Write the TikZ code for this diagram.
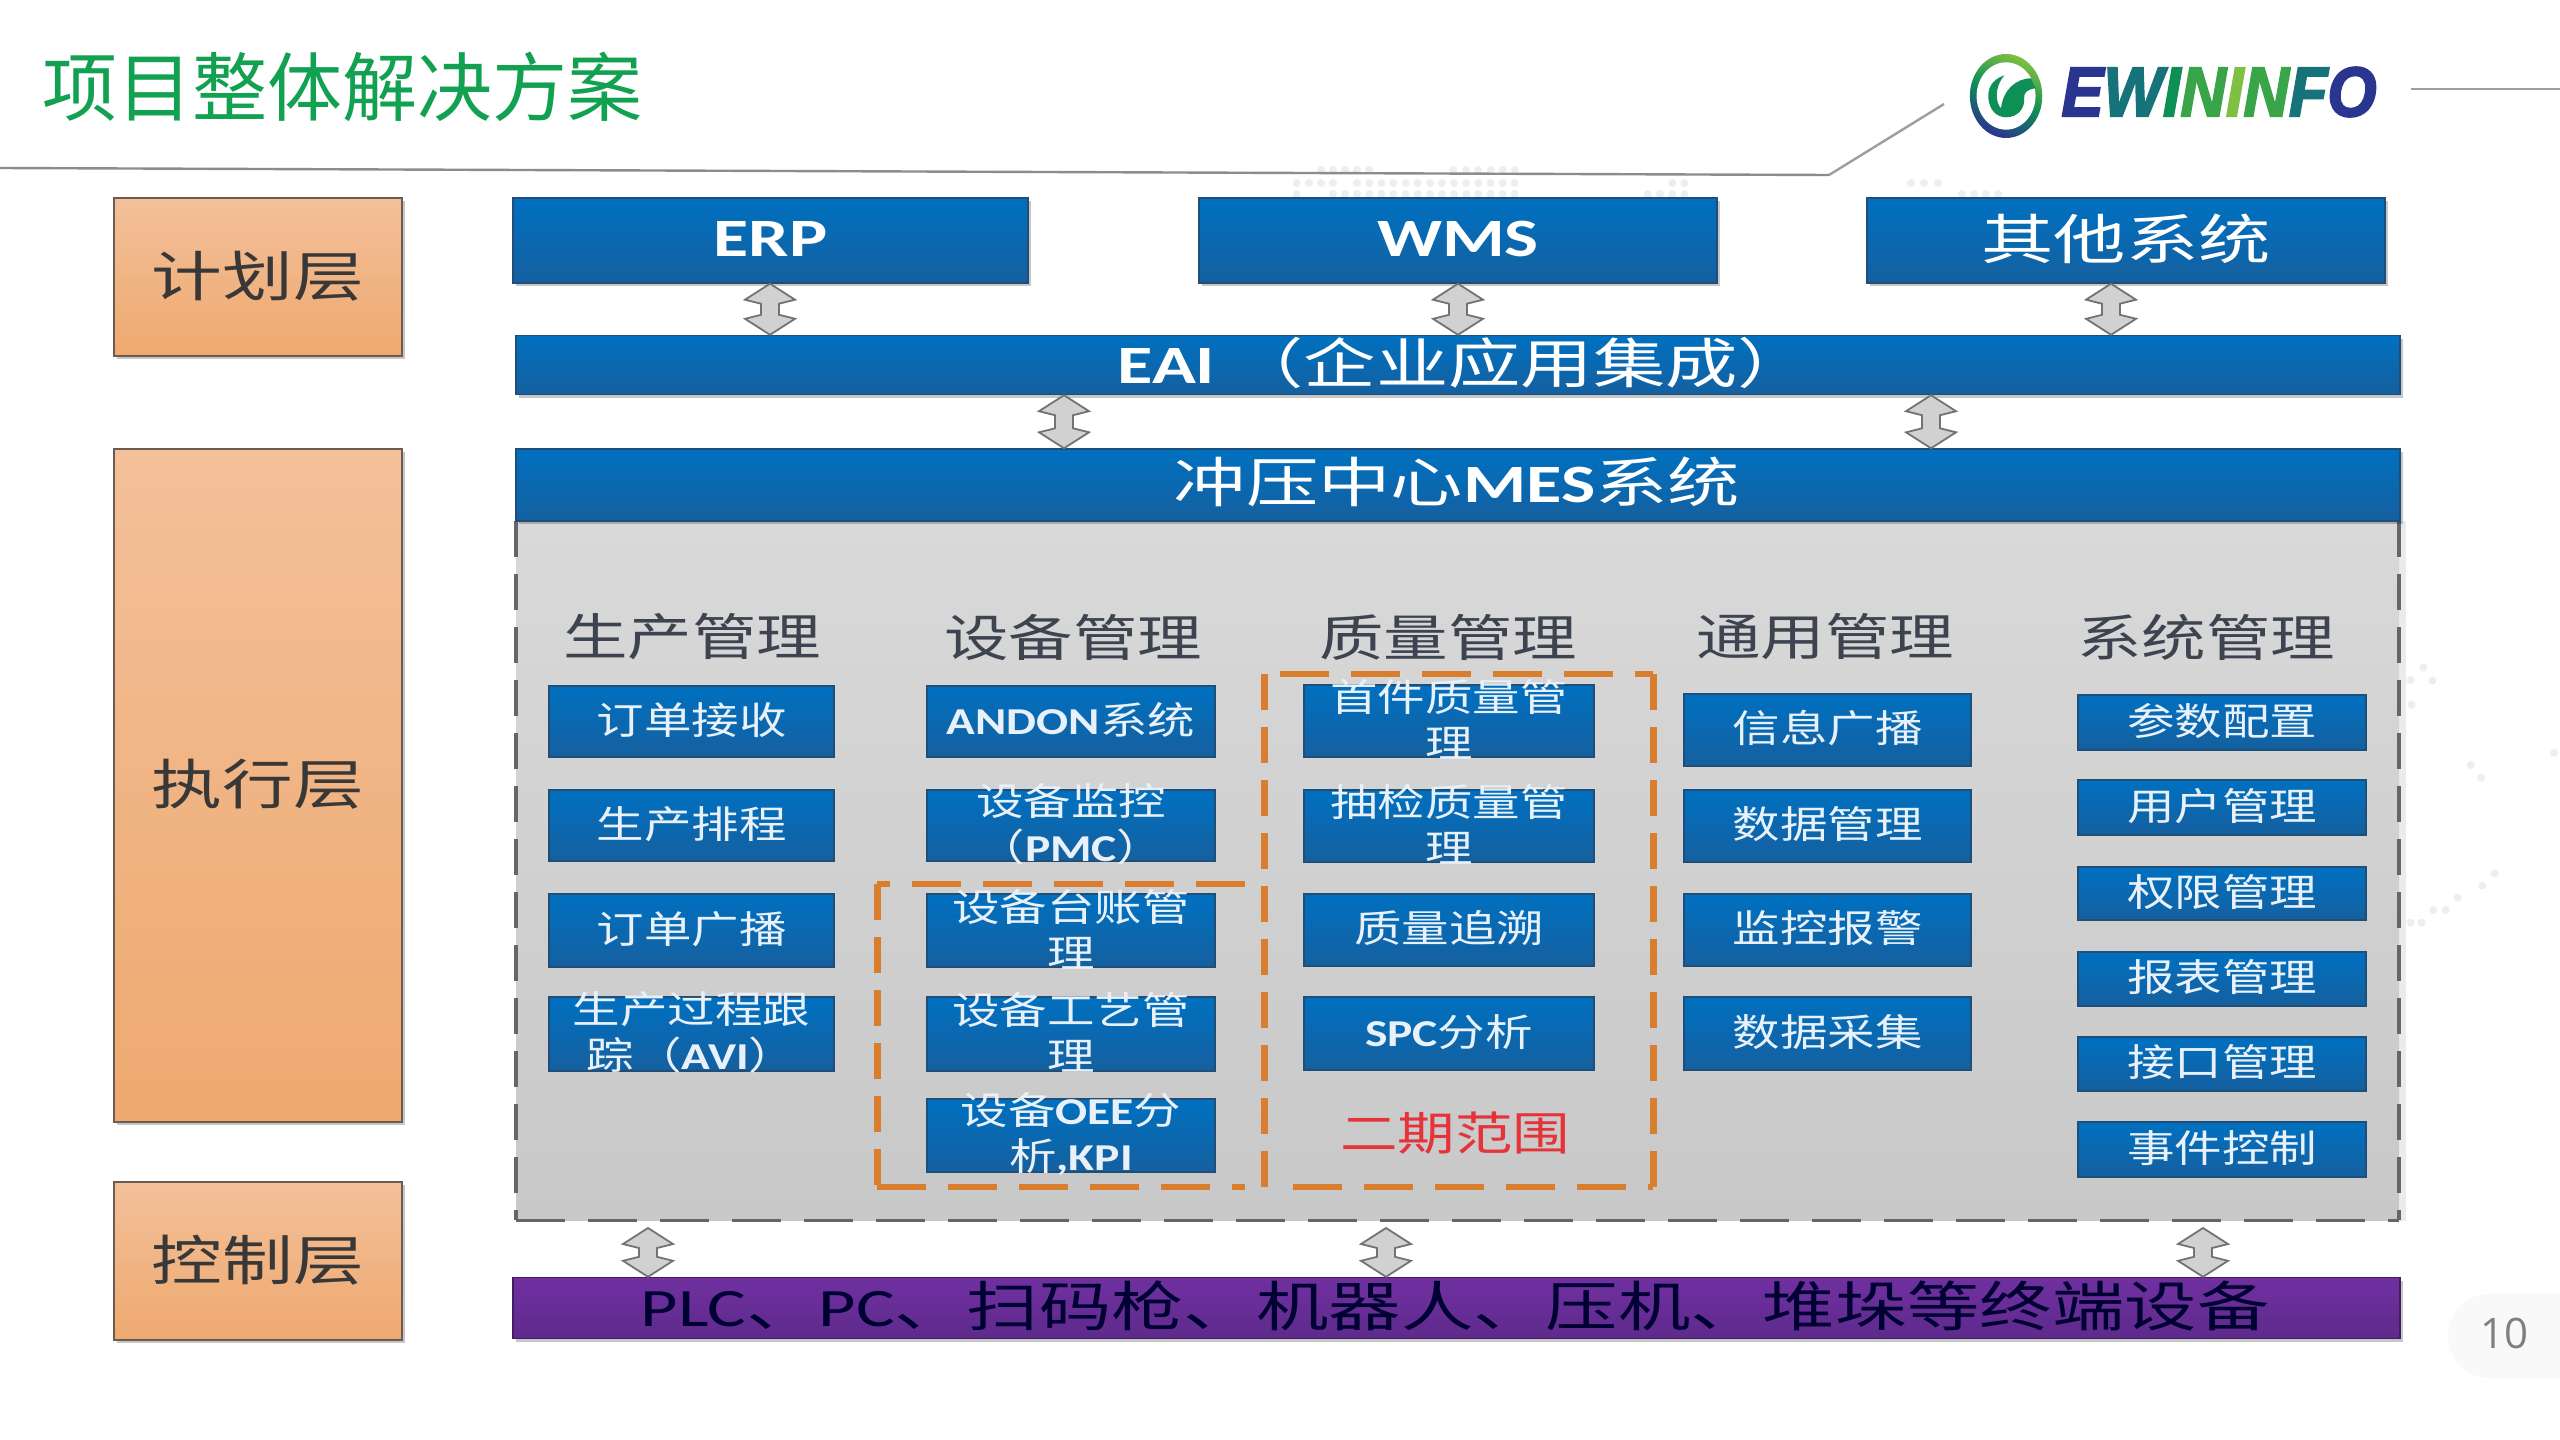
\documentclass[tikz,border=0pt]{standalone}
\usepackage{fontspec}
\usepackage{graphicx}
\usetikzlibrary{calc,shadows}
\setmainfont{Noto Sans CJK SC}
\newfontfamily\lat{Carlito}
\newfontfamily\pagefont{Open Sans}
\newfontfamily\logofont{Liberation Sans}[BoldItalicFeatures={FakeBold=3}]
\definecolor{blueT}{HTML}{0070C0}
\definecolor{blueB}{HTML}{15609F}
\definecolor{blueEdge}{HTML}{1F4E79}
\definecolor{orT}{HTML}{F3C09A}
\definecolor{orB}{HTML}{EEA96F}
\definecolor{orEdge}{HTML}{6B5B50}
\definecolor{panelT}{HTML}{D9D9DA}
\definecolor{panelB}{HTML}{C8C8C8}
\definecolor{purT}{HTML}{7030A0}
\definecolor{purB}{HTML}{5E2A8C}
\definecolor{dashO}{HTML}{D87E2E}
\definecolor{titleG}{HTML}{12A150}
\definecolor{headTxt}{HTML}{3D4450}
\definecolor{boxTxt}{HTML}{E8F1FA}
\definecolor{dotC}{HTML}{EEEEEE}
\definecolor{lineC}{HTML}{8C8C8C}
\definecolor{lgB}{HTML}{2A3590}
\definecolor{lgT}{HTML}{17737A}
\definecolor{lgG}{HTML}{0E8F55}
\definecolor{lgM}{HTML}{39A548}
\definecolor{lgL}{HTML}{7FBF41}
\definecolor{phaseR}{HTML}{E5333A}
\newcommand{\st}[1]{\scalebox{1.25}[1]{#1}}
\newcommand{\bt}[1]{\scalebox{1.34}[1]{#1}}
\newcommand{\lb}[1]{{\lat\bfseries #1}}
\newcommand{\boxat}[7]{%
  \node[#6,minimum width={(#4-#2)*0.5pt},minimum height={(#5-#3)*0.5pt}] (#1) at ({(#2+#4)/2},{(#3+#5)/2}) {};
  \node[boxlabel] (#1t) at (#1.center) {#7};}
\newcommand{\blockarrow}[3]{%
  \coordinate (t) at (#2,0 |- #1);
  \coordinate (b) at (#2,0 |- #3);
  \draw[blockshape] (t) -- ($(t)+(25,16)$) -- ($(t)+(9,20)$) -- ($(b)+(9,-20)$) -- ($(b)+(25,-16)$) -- (b) -- ($(b)+(-25,-16)$) -- ($(b)+(-9,-20)$) -- ($(t)+(-9,20)$) -- ($(t)+(-25,16)$) -- cycle;}
\tikzset{
  softshadow/.style={drop shadow={shadow xshift=1.5pt,shadow yshift=-1.5pt,opacity=.22,fill=black}},
  bluebar/.style={rectangle,draw=blueEdge,line width=.7pt,top color=blueT,bottom color=blueB,inner sep=0pt,softshadow},
  smallbox/.style={rectangle,draw=blueEdge,line width=.7pt,top color=blueT,bottom color=blueB,inner sep=0pt},
  layerbox/.style={rectangle,draw=orEdge,line width=1.1pt,top color=orT,bottom color=orB,inner sep=0pt,softshadow},
  purplebar/.style={rectangle,draw=purB!70!black,line width=.7pt,top color=purT,bottom color=purB,inner sep=0pt,softshadow},
  boxlabel/.style={inner sep=0pt,align=center,text=boxTxt,yshift=.8pt,font=\fontsize{19}{23}\selectfont},
  barlabel/.style={inner sep=0pt,align=center,text=white,yshift=1pt,font=\fontsize{27}{32}\selectfont},
  layerlabel/.style={inner sep=0pt,text=black!78,yshift=.5pt,font=\fontsize{27}{32}\selectfont},
  collabel/.style={inner sep=0pt,text=headTxt,font=\fontsize{25}{30}\selectfont},
  blockshape/.style={draw=black!55,fill=black!18,line width=.9pt,line join=miter},
  hdashgray/.style={draw=black!60,line width=1.5pt,dash pattern=on 24.5pt off 11.5pt},
  vdashgray/.style={draw=black!60,line width=2pt,dash pattern=on 18pt off 8.5pt},
  hdashor/.style={draw=dashO,line width=2.8pt,dash pattern=on 24.5pt off 11pt},
  vdashor/.style={draw=dashO,line width=3.5pt,dash pattern=on 18pt off 8.5pt},
  topline/.style={draw=lineC,line width=1.2pt},
  fdot/.style={fill=dotC,draw=none}
}
\begin{document}
\begin{tikzpicture}[x=0.5pt,y=-0.5pt]
\useasboundingbox (0,0) rectangle (2560,1440);
\fill[white] (0,0) rectangle (2560,1440);
% faint background dots
\foreach \z in {243,279,315,351,387,640,678,714,752,788,824}
  \fill[fdot] ({1240+\z/3},170) circle (4);
\foreach \z in {170,207,243,279,351,388,424,460,497,533,570,606,642,679,715,752,788,824,1297,1333}
  \fill[fdot] ({1240+\z/3},183) circle (4);
\foreach \z in {170,279,315,351,388,424,460,497,533,570,606,642,679,715,752,788,824,1223,1260,1297,1333}
  \fill[fdot] ({1240+\z/3},194) circle (4);
\foreach \xx in {1911,1924,1938}
  \fill[fdot] (\xx,183) circle (4);
\foreach \xx in {1962,1974,1986,1998}
  \fill[fdot] (\xx,194) circle (4);
\foreach \a/\b in {370/143,332/180,397/182,335/254,513/435,543/473,762/398,584/760,547/797,473/833,400/870,437/870,332/908,364/908}
  \fill[fdot] ({2300+\a/3},{620+\b/3}) circle (4);
% header lines
\coordinate (la) at (0,168);
\coordinate (lb) at (1829,175);
\coordinate (lc) at (1944,104);
\coordinate (ld) at (2411,89);
\coordinate (le) at (2560,89);
\draw[topline] (la) -- (lb);
\draw[topline,draw=black!38] (lb) -- (lc);
\draw[topline,draw=black!38] (ld) -- (le);
% title
\node[anchor=west,inner sep=0pt,text=titleG,font=\fontsize{37.5}{44}\selectfont] (title) at (42,87) {项目整体解决方案};
% logo mark
\begin{scope}[shift={(1900,0)},xscale=0.4209,yscale=0.3333]
  \shade[top color=lgL,bottom color=lgB,middle color=lgG,shading angle=-25] (252,288) ellipse [x radius=86,y radius=126];
  \fill[white] (252,288) ellipse [x radius=70,y radius=101];
  \fill[lgG] (248,226) .. controls (215,240) and (208,270) .. (210,295)
     .. controls (212,330) and (230,352) .. (252,352)
     .. controls (280,352) and (297,325) .. (295,295)
     .. controls (294,280) and (300,268) .. (322,265)
     -- (312,235)
     .. controls (275,235) and (245,270) .. (240,325)
     .. controls (228,310) and (222,265) .. (248,226) -- cycle;
\end{scope}
\node[anchor=center,inner sep=0pt,xscale=.9,transform shape,font=\logofont\bfseries\itshape\fontsize{35}{40}\selectfont] (logo) at (2219,92)
  {\textcolor{lgB}{E}\textcolor{lgT}{W}\textcolor{lgG}{I}\textcolor{lgM}{N}\textcolor{lgL}{I}\textcolor{lgM}{N}\textcolor{lgT}{F}\textcolor{lgB}{O}};
% page number pill
\fill[black!2.5] (2560,1294) -- (2490,1294) arc (-90:-270:42) -- (2560,1378) -- cycle;
\node[inner sep=0pt,text=black!50,font=\pagefont\fontsize{21}{25}\selectfont] (pageno) at (2504,1333) {10};
% layer boxes
\node[layerbox,minimum width=144pt,minimum height=79pt] (plan) at (258,277) {};
\node[layerlabel] (plant) at (plan.center) {\scalebox{1.31}[1]{计划层}};
\node[layerbox,minimum width=144pt,minimum height=336.5pt] (exec) at (258,785.5) {};
\node[layerlabel] (exect) at (258,785) {\scalebox{1.31}[1]{执行层}};
\node[layerbox,minimum width=144pt,minimum height=79pt] (ctrl) at (258,1261) {};
\node[layerlabel] (ctrlt) at (ctrl.center) {\scalebox{1.31}[1]{控制层}};
% panel
\node[rectangle,inner sep=0pt,fill=black!8,minimum width=944.5pt,minimum height=350pt] (halo) at (1461,871) {};
\node[rectangle,inner sep=0pt,top color=panelT,bottom color=panelB,minimum width=941.5pt,minimum height=349.5pt] (panel) at (1457.5,870.5) {};
\coordinate (pTL) at (516,521);
\coordinate (pBL) at (516,1220);
\coordinate (pBR) at (2399,1220);
\coordinate (pTR) at (2399,521);
\draw[vdashgray] (pTL) -- (pBL);
\draw[hdashgray] (pBL) -- (pBR);
\draw[vdashgray] (pTR) -- (pBR);
% top bars
\node[bluebar,minimum width=257.5pt,minimum height=42.5pt] (erp) at (770.5,240.5) {};
\node[barlabel] (erpt) at (erp.center) {\scalebox{1.33}[1]{\lb{ERP}}};
\node[bluebar,minimum width=259pt,minimum height=42.5pt] (wms) at (1458,240.5) {};
\node[barlabel] (wmst) at (wms.center) {\scalebox{1.33}[1]{\lb{WMS}}};
\node[bluebar,minimum width=259pt,minimum height=42.5pt] (other) at (2126,240.5) {};
\node[barlabel] (othert) at (other.center) {\bt{其他系统}};
\node[bluebar,minimum width=942pt,minimum height=29.5pt] (eai) at (1458,365) {};
\node[barlabel] (eait) at (1464,364.5) {\bt{\lb{EAI}\ （企业应用集成）}};
\node[bluebar,minimum width=942pt,minimum height=36pt] (mes) at (1458,485) {};
\node[barlabel] (mest) at (1457,484) {\bt{冲压中心\lb{MES}系统}};
\node[purplebar,minimum width=943.5pt,minimum height=30.5pt] (term) at (1456.5,1308) {};
\node[barlabel,text=black!80!blue] (termt) at (1455,1308) {\bt{{\lat PLC}、{\lat PC}、扫码枪、机器人、压机、堆垛等终端设备}};
% block arrows
\blockarrow{erp.south}{770}{eai.north}
\blockarrow{wms.south}{1458}{eai.north}
\blockarrow{other.south}{2111}{eai.north}
\blockarrow{eai.south}{1064}{mes.north}
\blockarrow{eai.south}{1931}{mes.north}
\coordinate (pb1) at (648,1228);
\coordinate (pb2) at (1386,1228);
\coordinate (pb3) at (2203,1228);
\blockarrow{pb1}{648}{term.north}
\blockarrow{pb2}{1386}{term.north}
\blockarrow{pb3}{2203}{term.north}
% column headers
\node[collabel] (h1) at (692,637) {\scalebox{1.29}[1]{生产管理}};
\node[collabel] (h2) at (1073,637) {\scalebox{1.29}[1]{设备管理}};
\node[collabel] (h3) at (1448,637) {\scalebox{1.29}[1]{质量管理}};
\node[collabel] (h4) at (1825,637) {\scalebox{1.29}[1]{通用管理}};
\node[collabel] (h5) at (2206,637) {\scalebox{1.29}[1]{系统管理}};
% column 1
\boxat{a1}{549}{686}{834}{757}{smallbox}{\st{订单接收}}
\boxat{a2}{549}{790}{834}{861}{smallbox}{\st{生产排程}}
\boxat{a3}{549}{894}{834}{967}{smallbox}{\st{订单广播}}
\boxat{a4}{549}{997}{834}{1071}{smallbox}{\st{生产过程跟}\\\st{踪（\lb{AVI}）}}
% column 2
\boxat{b1}{927}{686}{1215}{757}{smallbox}{\st{\lb{ANDON}系统}}
\boxat{b2}{927}{790}{1215}{861}{smallbox}{\st{设备监控}\\\st{（\lb{PMC}）}}
\boxat{b3}{927}{894}{1215}{967}{smallbox}{\st{设备台账管}\\\st{理}}
\boxat{b4}{927}{997}{1215}{1071}{smallbox}{\st{设备工艺管}\\\st{理}}
\boxat{b5}{927}{1099}{1215}{1172}{smallbox}{\st{设备\lb{OEE}分}\\\st{析\lb{,KPI}}}
% column 3
\boxat{c1}{1304}{685}{1594}{757}{smallbox}{\st{首件质量管}\\\st{理}}
\boxat{c2}{1304}{790}{1594}{862}{smallbox}{\st{抽检质量管}\\\st{理}}
\boxat{c3}{1304}{894}{1594}{966}{smallbox}{\st{质量追溯}}
\boxat{c4}{1304}{997}{1594}{1070}{smallbox}{\st{\lb{SPC}分析}}
% column 4
\boxat{d1}{1684}{694}{1971}{766}{smallbox}{\st{信息广播}}
\boxat{d2}{1684}{790}{1971}{862}{smallbox}{\st{数据管理}}
\boxat{d3}{1684}{894}{1971}{966}{smallbox}{\st{监控报警}}
\boxat{d4}{1684}{997}{1971}{1070}{smallbox}{\st{数据采集}}
% column 5
\boxat{e1}{2078}{695}{2366}{750}{smallbox}{\st{参数配置}}
\boxat{e2}{2078}{780}{2366}{835}{smallbox}{\st{用户管理}}
\boxat{e3}{2078}{867}{2366}{920}{smallbox}{\st{权限管理}}
\boxat{e4}{2078}{952}{2366}{1006}{smallbox}{\st{报表管理}}
\boxat{e5}{2078}{1037}{2366}{1091}{smallbox}{\st{接口管理}}
\boxat{e6}{2078}{1122}{2366}{1177}{smallbox}{\st{事件控制}}
% orange dashed regions
\coordinate (oa) at (1245,884);
\coordinate (ob) at (877,884);
\coordinate (oc) at (877,1187);
\coordinate (od) at (1245,1187);
\draw[hdashor] (oa) -- (ob);
\draw[vdashor] (ob) -- (oc);
\draw[hdashor] (oc) -- (od);
\coordinate (qa) at (1264,674);
\coordinate (qb) at (1653,674);
\coordinate (qc) at (1653,1187);
\coordinate (qd) at (1264,1187);
\draw[hdashor] (1280,674) -- (qb);
\draw[vdashor] (qa) -- (qd);
\draw[vdashor] (qb) -- (qc);
\draw[hdashor] (1293,1187) -- (qc);
\node[inner sep=0pt,text=phaseR,font=\fontsize{23}{28}\selectfont] (phase2) at (1455,1133) {\st{二期范围}};
\end{tikzpicture}
\end{document}
